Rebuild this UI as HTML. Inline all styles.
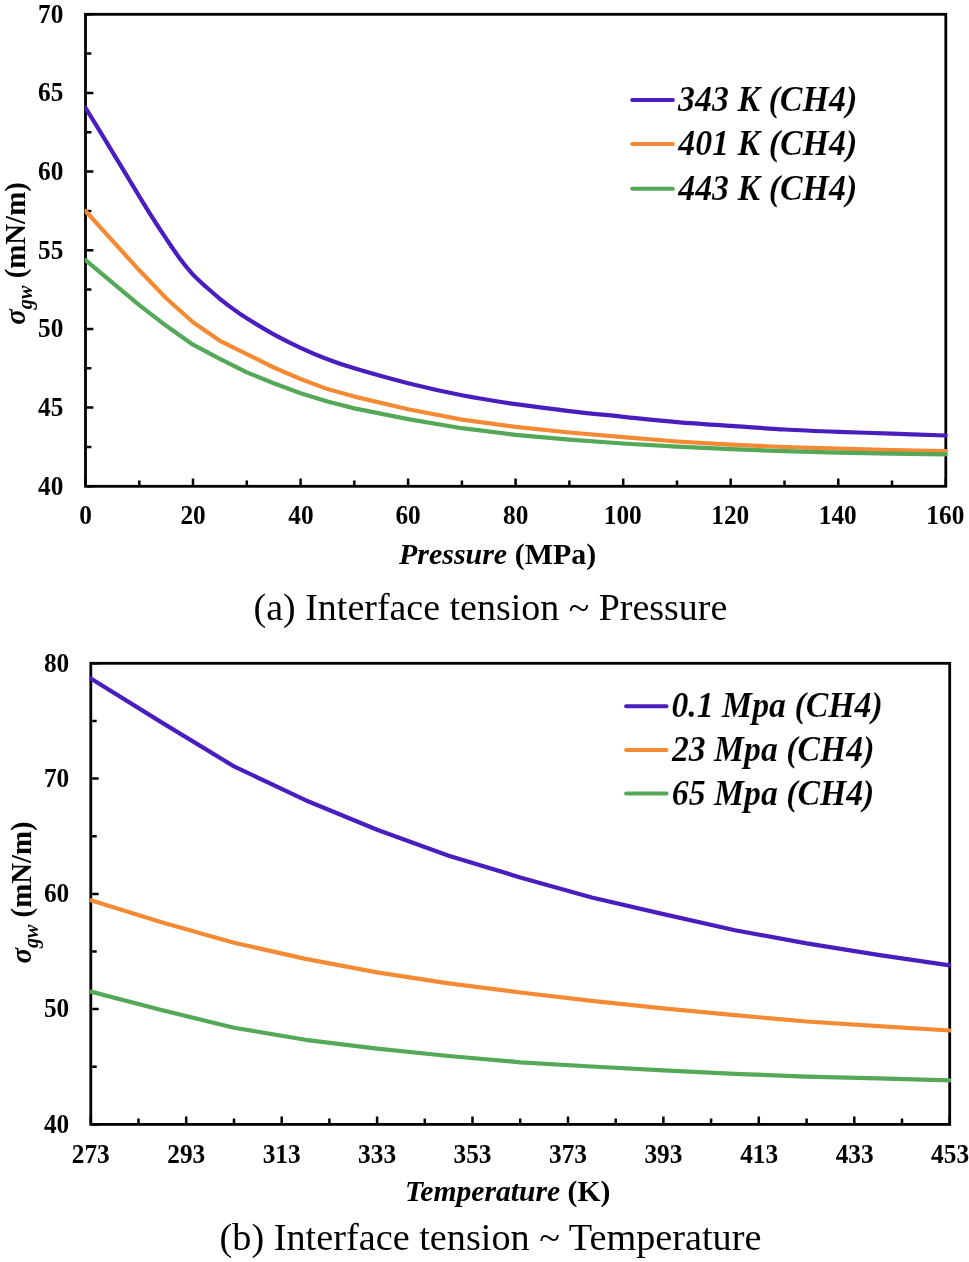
<!DOCTYPE html>
<html lang="en">
<head>
<meta charset="utf-8">
<title>Interface tension of methane–water versus pressure and temperature</title>
<style>
html,body{margin:0;padding:0;background:#fff;}
body{width:969px;height:1262px;overflow:hidden;}
svg{display:block;will-change:transform;}
text{font-family:"Liberation Serif","Times New Roman",Times,serif;fill:#000;}
.b{font-weight:bold;}
.bi{font-weight:bold;font-style:italic;}
.lg{stroke:#fff;stroke-width:0.15px;}
.r{font-weight:normal;}
</style>
</head>
<body>
<svg width="969" height="1262" viewBox="0 0 969 1262">
<rect width="969" height="1262" fill="#fff"/>

<!-- chart (a): interface tension vs pressure -->
<path d="M85.5 484.9v-6.5M193.0 484.9v-6.5M300.6 484.9v-6.5M408.1 484.9v-6.5M515.6 484.9v-6.5M623.2 484.9v-6.5M730.7 484.9v-6.5M838.3 484.9v-6.5M945.8 484.9v-6.5M139.3 484.9v-4.5M246.8 484.9v-4.5M354.3 484.9v-4.5M461.9 484.9v-4.5M569.4 484.9v-4.5M677.0 484.9v-4.5M784.5 484.9v-4.5M892.0 484.9v-4.5M86.9 486.3h6.5M86.9 407.6h6.5M86.9 329.0h6.5M86.9 250.3h6.5M86.9 171.6h6.5M86.9 93.0h6.5M86.9 14.3h6.5M86.9 447.0h4.5M86.9 368.3h4.5M86.9 289.6h4.5M86.9 211.0h4.5M86.9 132.3h4.5M86.9 53.6h4.5" stroke="#000" stroke-width="2.5" fill="none"/>
<rect x="85.5" y="14.3" width="860.3" height="472.0" fill="none" stroke="#000" stroke-width="2.8"/>
<clipPath id="clipA"><rect x="84.7" y="14.3" width="863.1" height="472.0"/></clipPath>
<g clip-path="url(#clipA)">
<path d="M85.5 107.8C90.0 115.1 103.4 137.0 112.4 151.8C121.3 166.6 132.5 185.3 139.3 196.3C146.0 207.4 148.2 211.0 152.7 218.0C157.2 225.1 161.7 232.0 166.2 238.7C170.6 245.3 175.1 252.2 179.6 258.2C184.1 264.2 188.6 269.8 193.0 274.7C197.5 279.5 202.0 283.3 206.5 287.3C211.0 291.3 215.4 295.1 219.9 298.8C224.4 302.4 228.9 305.9 233.4 309.1C237.8 312.4 240.1 314.1 246.8 318.3C253.5 322.5 264.7 329.4 273.7 334.3C282.7 339.2 291.6 343.7 300.6 347.8C309.5 352.0 318.5 355.8 327.5 359.2C336.4 362.6 340.9 364.3 354.3 368.3C367.8 372.3 390.2 378.8 408.1 383.2C426.0 387.7 444.0 391.7 461.9 395.2C479.8 398.7 497.7 401.5 515.6 404.2C533.6 406.8 551.5 409.0 569.4 411.1C587.3 413.2 605.3 414.9 623.2 416.8C641.1 418.6 659.0 420.6 677.0 422.1C694.9 423.6 712.8 424.7 730.7 425.9C748.6 427.1 766.6 428.5 784.5 429.5C802.4 430.5 820.3 431.2 838.3 431.9C856.2 432.5 874.1 433.0 892.0 433.6C910.0 434.2 936.8 435.2 945.8 435.5" fill="none" stroke="#4a1dbe" stroke-width="4.2" stroke-linecap="round" stroke-linejoin="round"/>
<polyline points="85.5,211.0 139.3,270.3 166.2,298.3 193.0,322.2 219.9,340.8 246.8,354.1 273.7,367.5 300.6,379.0 327.5,389.1 354.3,396.6 408.1,409.2 461.9,419.6 515.6,426.8 569.4,432.5 623.2,437.2 677.0,441.5 730.7,444.6 784.5,447.0 838.3,448.7 892.0,450.1 945.8,451.2" fill="none" stroke="#f58a35" stroke-width="4.2" stroke-linecap="round" stroke-linejoin="round"/>
<polyline points="85.5,260.2 139.3,305.2 166.2,325.8 193.0,344.7 219.9,358.9 246.8,372.4 273.7,383.2 300.6,393.2 327.5,401.5 354.3,408.4 408.1,419.1 461.9,428.2 515.6,434.9 569.4,439.6 623.2,443.5 677.0,446.7 730.7,449.2 784.5,451.2 838.3,452.6 892.0,453.7 945.8,454.4" fill="none" stroke="#55a857" stroke-width="4.2" stroke-linecap="round" stroke-linejoin="round"/>
</g>
<g class="b" font-size="26.5">
<text transform="translate(79.17 523.90) scale(0.955 1)">0</text>
<text transform="translate(180.38 523.90) scale(0.955 1)">20</text>
<text transform="translate(288.28 523.90) scale(0.955 1)">40</text>
<text transform="translate(395.46 523.90) scale(0.955 1)">60</text>
<text transform="translate(503.00 523.90) scale(0.955 1)">80</text>
<text transform="translate(603.73 523.90) scale(0.955 1)">100</text>
<text transform="translate(711.27 523.90) scale(0.955 1)">120</text>
<text transform="translate(818.80 523.90) scale(0.955 1)">140</text>
<text transform="translate(926.34 523.90) scale(0.955 1)">160</text>
<text transform="translate(38.05 494.60) scale(0.955 1)">40</text>
<text transform="translate(38.05 415.93) scale(0.955 1)">45</text>
<text transform="translate(38.05 337.27) scale(0.955 1)">50</text>
<text transform="translate(38.05 258.60) scale(0.955 1)">55</text>
<text transform="translate(38.05 179.93) scale(0.955 1)">60</text>
<text transform="translate(38.05 101.27) scale(0.955 1)">65</text>
<text transform="translate(38.05 22.60) scale(0.955 1)">70</text>
</g>
<line x1="632.2" y1="99.9" x2="672.9" y2="99.9" stroke="#4a1dbe" stroke-width="4.0" stroke-linecap="round"/>
<line x1="632.2" y1="144.0" x2="672.9" y2="144.0" stroke="#f58a35" stroke-width="4.0" stroke-linecap="round"/>
<line x1="632.2" y1="188.7" x2="672.9" y2="188.7" stroke="#55a857" stroke-width="4.0" stroke-linecap="round"/>
<text class="bi lg" font-size="35.0" transform="translate(677.94 110.80) scale(0.9707 1)">343 K (CH4)</text>
<text class="bi lg" font-size="35.0" transform="translate(678.18 155.30) scale(0.9694 1)">401 K (CH4)</text>
<text class="bi lg" font-size="35.0" transform="translate(678.18 199.80) scale(0.9694 1)">443 K (CH4)</text>
<text class="b" font-size="30" transform="translate(25.00 324.72) rotate(-90) scale(0.9623 1)"><tspan class="bi">σ</tspan><tspan class="bi" font-size="21.0" dy="6.6">gw</tspan><tspan dy="-6.6"> (mN/m)</tspan></text>
<text class="b" font-size="29.3" transform="translate(399.00 564.00) scale(1.0225 1)"><tspan class="bi">Pressure</tspan> (MPa)</text>
<text class="r" font-size="37.2" transform="translate(253.61 619.80) scale(1.0206 1)">(a) Interface tension ~ Pressure</text>
<!-- chart (b): interface tension vs temperature -->
<path d="M90.8 1123.0v-6.5M186.2 1123.0v-6.5M281.7 1123.0v-6.5M377.1 1123.0v-6.5M472.5 1123.0v-6.5M568.0 1123.0v-6.5M663.4 1123.0v-6.5M758.8 1123.0v-6.5M854.3 1123.0v-6.5M949.7 1123.0v-6.5M138.5 1123.0v-4.5M234.0 1123.0v-4.5M329.4 1123.0v-4.5M424.8 1123.0v-4.5M520.2 1123.0v-4.5M615.7 1123.0v-4.5M711.1 1123.0v-4.5M806.6 1123.0v-4.5M902.0 1123.0v-4.5M92.2 1124.4h6.5M92.2 1009.1h6.5M92.2 893.9h6.5M92.2 778.6h6.5M92.2 663.3h6.5M92.2 1066.8h4.5M92.2 951.5h4.5M92.2 836.2h4.5M92.2 720.9h4.5" stroke="#000" stroke-width="2.5" fill="none"/>
<rect x="90.8" y="663.3" width="858.9" height="461.1" fill="none" stroke="#000" stroke-width="2.8"/>
<clipPath id="clipB"><rect x="89.7" y="663.3" width="861.4" height="461.1"/></clipPath>
<g clip-path="url(#clipB)">
<polyline points="90.8,678.5 162.4,722.9 234.0,766.4 305.5,800.2 377.1,829.8 448.7,855.7 520.2,877.4 591.8,897.5 663.4,914.1 735.0,930.2 806.6,943.4 878.1,954.9 949.7,965.4" fill="none" stroke="#4a1dbe" stroke-width="4.2" stroke-linecap="round" stroke-linejoin="round"/>
<polyline points="90.8,900.3 162.4,922.4 234.0,942.7 305.5,958.9 377.1,972.4 448.7,983.3 520.2,992.5 591.8,1000.9 663.4,1008.3 735.0,1015.2 806.6,1021.5 878.1,1026.1 949.7,1030.5" fill="none" stroke="#f58a35" stroke-width="4.2" stroke-linecap="round" stroke-linejoin="round"/>
<polyline points="90.8,991.6 162.4,1010.3 234.0,1027.7 305.5,1039.8 377.1,1048.7 448.7,1056.0 520.2,1062.3 591.8,1066.5 663.4,1070.3 735.0,1073.8 806.6,1076.6 878.1,1078.4 949.7,1080.4" fill="none" stroke="#55a857" stroke-width="4.2" stroke-linecap="round" stroke-linejoin="round"/>
</g>
<g class="b" font-size="26.5">
<text transform="translate(71.82 1162.60) scale(0.955 1)">273</text>
<text transform="translate(167.25 1162.60) scale(0.955 1)">293</text>
<text transform="translate(262.69 1162.60) scale(0.955 1)">313</text>
<text transform="translate(358.12 1162.60) scale(0.955 1)">333</text>
<text transform="translate(453.55 1162.60) scale(0.955 1)">353</text>
<text transform="translate(548.99 1162.60) scale(0.955 1)">373</text>
<text transform="translate(644.42 1162.60) scale(0.955 1)">393</text>
<text transform="translate(740.21 1162.60) scale(0.955 1)">413</text>
<text transform="translate(835.64 1162.60) scale(0.955 1)">433</text>
<text transform="translate(931.08 1162.60) scale(0.955 1)">453</text>
<text transform="translate(43.95 1132.70) scale(0.955 1)">40</text>
<text transform="translate(43.95 1017.42) scale(0.955 1)">50</text>
<text transform="translate(43.95 902.15) scale(0.955 1)">60</text>
<text transform="translate(43.95 786.88) scale(0.955 1)">70</text>
<text transform="translate(43.95 671.60) scale(0.955 1)">80</text>
</g>
<line x1="626.1" y1="706.2" x2="666.5" y2="706.2" stroke="#4a1dbe" stroke-width="4.0" stroke-linecap="round"/>
<line x1="626.1" y1="749.9" x2="666.5" y2="749.9" stroke="#f58a35" stroke-width="4.0" stroke-linecap="round"/>
<line x1="626.1" y1="793.5" x2="666.5" y2="793.5" stroke="#55a857" stroke-width="4.0" stroke-linecap="round"/>
<text class="bi lg" font-size="35.0" transform="translate(671.39 717.30) scale(0.9663 1)">0.1 Mpa (CH4)</text>
<text class="bi lg" font-size="35.0" transform="translate(671.88 761.00) scale(0.9647 1)">23 Mpa (CH4)</text>
<text class="bi lg" font-size="35.0" transform="translate(671.79 804.60) scale(0.9651 1)">65 Mpa (CH4)</text>
<text class="b" font-size="30" transform="translate(31.20 963.62) rotate(-90) scale(0.9596 1)"><tspan class="bi">σ</tspan><tspan class="bi" font-size="21.0" dy="6.6">gw</tspan><tspan dy="-6.6"> (mN/m)</tspan></text>
<text class="b" font-size="29.3" transform="translate(404.92 1200.50) scale(1.0113 1)"><tspan class="bi">Temperature</tspan> (K)</text>
<text class="r" font-size="37.2" transform="translate(219.60 1249.90) scale(1.0284 1)">(b) Interface tension ~ Temperature</text>
</svg>
</body>
</html>
